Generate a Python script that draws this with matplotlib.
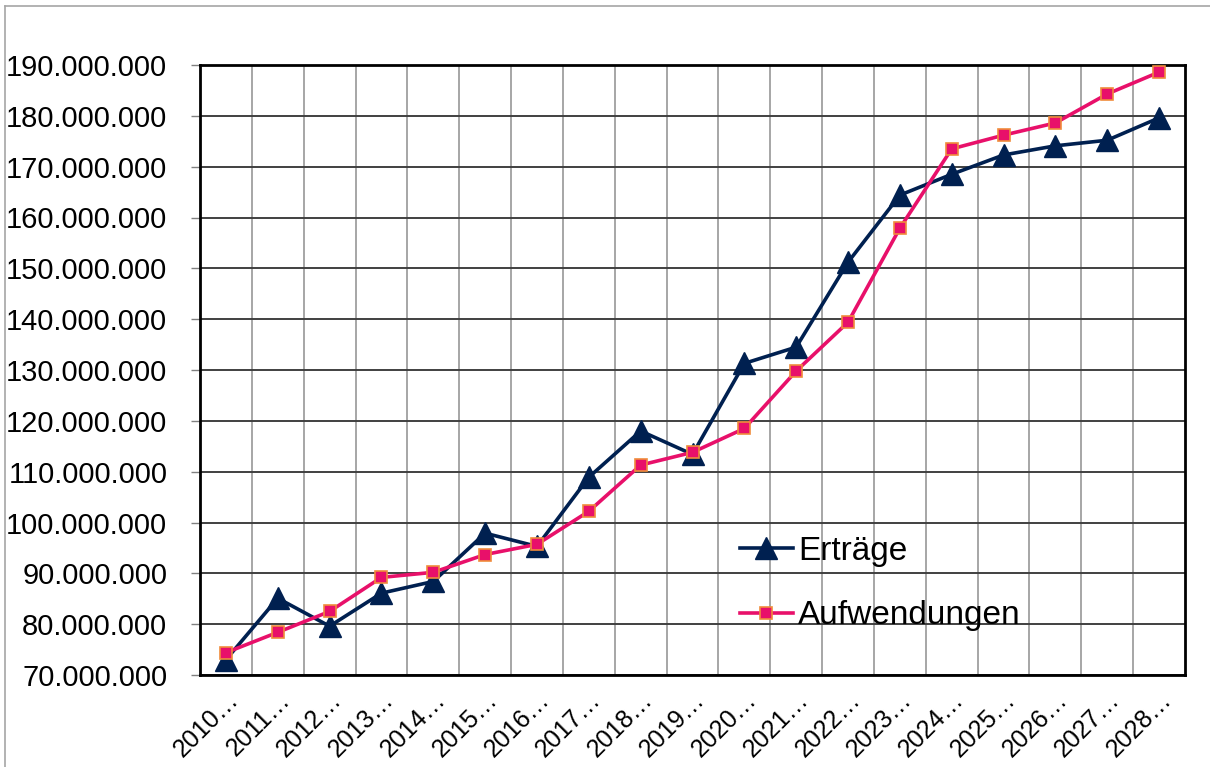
import matplotlib.pyplot as plt
from matplotlib.ticker import FuncFormatter, MultipleLocator, FixedLocator
from matplotlib.lines import Line2D

plt.rcParams['font.family'] = ['Liberation Sans', 'DejaVu Sans']

jahre = list(range(2010, 2029))
labels = [f"{j}…" for j in jahre]

ertraege = [73.0, 85.1, 79.6, 86.1, 88.4, 97.9, 95.3, 108.9, 118.0, 113.4,
            131.3, 134.5, 151.2, 164.4, 168.5, 172.3, 174.1, 175.2, 179.6]
aufwendungen = [74.4, 78.4, 82.5, 89.2, 90.2, 93.7, 95.7, 102.2, 111.3, 113.8,
                118.5, 129.8, 139.4, 157.9, 173.5, 176.2, 178.6, 184.3, 188.6]

ertraege = [v * 1e6 for v in ertraege]
aufwendungen = [v * 1e6 for v in aufwendungen]

fig = plt.figure(figsize=(12.1, 7.67), dpi=100)
ax = fig.add_axes([200 / 1210, 92 / 767, 985 / 1210, 610 / 767])

x = list(range(len(jahre)))
ax.plot(x, ertraege, color='#002050', lw=2.6, marker='^', markersize=16,
        markerfacecolor='#002050', markeredgecolor='#002050', label='Erträge', zorder=3)
ax.plot(x, aufwendungen, color='#E8106A', lw=2.6, marker='s', markersize=9,
        markerfacecolor='#E8106A', markeredgecolor='#F08C3C', markeredgewidth=1.2,
        label='Aufwendungen', zorder=4)

ax.set_xlim(-0.5, len(jahre) - 0.5)
ax.set_ylim(70e6, 190e6)
ax.yaxis.set_major_locator(MultipleLocator(10e6))
ax.yaxis.set_major_formatter(FuncFormatter(lambda v, p: f"{v:,.0f}".replace(",", ".")))

ax.set_xticks(x)
ax.set_xticklabels(labels, rotation=45, ha='right', va='top', rotation_mode='anchor', fontsize=18)
ax.tick_params(axis='x', which='major', length=0, pad=9)
ax.xaxis.set_minor_locator(FixedLocator([i + 0.5 for i in x[:-1]]))
ax.tick_params(axis='x', which='minor', length=0)
ax.tick_params(axis='y', length=6.5, width=1, color='#808080', pad=17, labelsize=21)

ax.grid(True, axis='y', which='major', color='#404040', lw=1.4)
ax.grid(True, axis='x', which='minor', color='#A6A6A6', lw=1.4)
ax.set_axisbelow(True)
for s in ax.spines.values():
    s.set_color('black')
    s.set_linewidth(2)

ax.legend(loc='upper left', bbox_to_anchor=(0.548, 0.228), frameon=False, fontsize=24,
          handlelength=1.6, handletextpad=0.15, borderpad=0, labelspacing=1.0, borderaxespad=0)

fig.add_artist(Line2D([5 / 1210, 1], [1 - 6 / 767, 1 - 6 / 767], color='#A6A6A6', lw=1.2))
fig.add_artist(Line2D([5 / 1210, 5 / 1210], [0, 1 - 6 / 767], color='#A6A6A6', lw=1.2))

plt.savefig('out.png', dpi=100)
